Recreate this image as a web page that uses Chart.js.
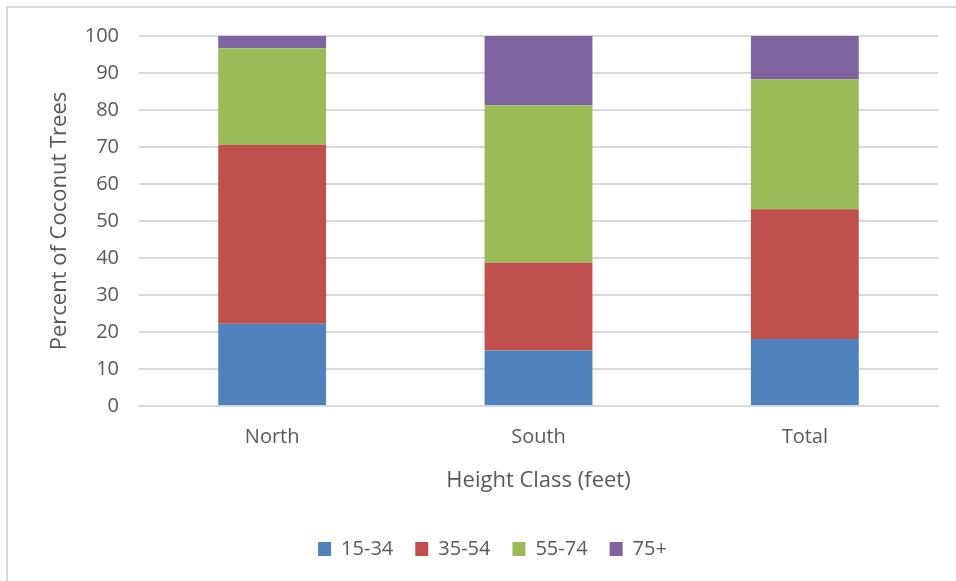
<!DOCTYPE html>
<html>
<head>
<meta charset="utf-8">
<script src="https://cdn.jsdelivr.net/npm/chart.js@4"></script>
<style>
  body { margin: 0; background: #fff; overflow: hidden; }
  .frame { position: absolute; left: 6px; top: 6px; width: 1000px; height: 1000px; border: 2px solid #d9d9d9; }
  .wrap { position: absolute; left: 0; top: 0; width: 956px; height: 581px; }
</style>
</head>
<body>
<div class="frame"></div>
<div class="wrap"><canvas id="chart"></canvas></div>
<script>
const regions = ['North', 'South', 'Total'];
const heightClasses = ['15-34', '35-54', '55-74', '75+'];
const classColors = ['#4f81bd', '#c0504d', '#9bbb59', '#8064a2'];

// percent of trees per height class
const h15to34 = [22.2, 15.0, 18.1];
const h35to54 = [48.4, 23.7, 35.1];
const h55to74 = [26.1, 42.6, 35.1];
const h75plus = [3.3, 18.7, 11.7];

const series = [h15to34, h35to54, h55to74, h75plus];
const fontFamily = '"Open Sans", sans-serif';
const textColor = '#595959';

new Chart(document.getElementById('chart'), {
  type: 'bar',
  data: {
    labels: regions,
    datasets: series.map((vals, i) => ({
      label: heightClasses[i],
      data: vals,
      backgroundColor: classColors[i],
      borderWidth: 0,
      categoryPercentage: 1,
      barPercentage: 0.405
    }))
  },
  options: {
    responsive: true,
    maintainAspectRatio: false,
    animation: false,
    layout: { padding: { top: 36, right: 18, bottom: 12, left: 47 } },
    plugins: {
      legend: {
        position: 'bottom',
        labels: {
          color: textColor,
          font: { family: fontFamily, size: 20 },
          boxWidth: 13,
          boxHeight: 14,
          padding: 22
        }
      },
      tooltip: { enabled: false }
    },
    scales: {
      x: {
        stacked: true,
        grid: { display: false },
        border: { color: '#d9d9d9', width: 2 },
        ticks: { color: textColor, font: { family: fontFamily, size: 20 }, padding: 11 },
        title: {
          display: true,
          text: 'Height Class (feet)',
          color: textColor,
          font: { family: fontFamily, size: 22 },
          padding: { top: 7, bottom: 23 }
        },
        afterFit: s => { s.height = 111; }
      },
      y: {
        stacked: true,
        min: 0,
        max: 100,
        ticks: { stepSize: 10, color: textColor, font: { family: fontFamily, size: 20 }, padding: 20 },
        grid: { color: '#d9d9d9', lineWidth: 2, drawTicks: false },
        border: { display: false },
        title: {
          display: true,
          text: 'Percent of Coconut Trees',
          color: textColor,
          font: { family: fontFamily, size: 22 },
          padding: { top: 0, bottom: 0 }
        },
        afterFit: s => { s.width = 92; }
      }
    }
  }
});
</script>
</body>
</html>
